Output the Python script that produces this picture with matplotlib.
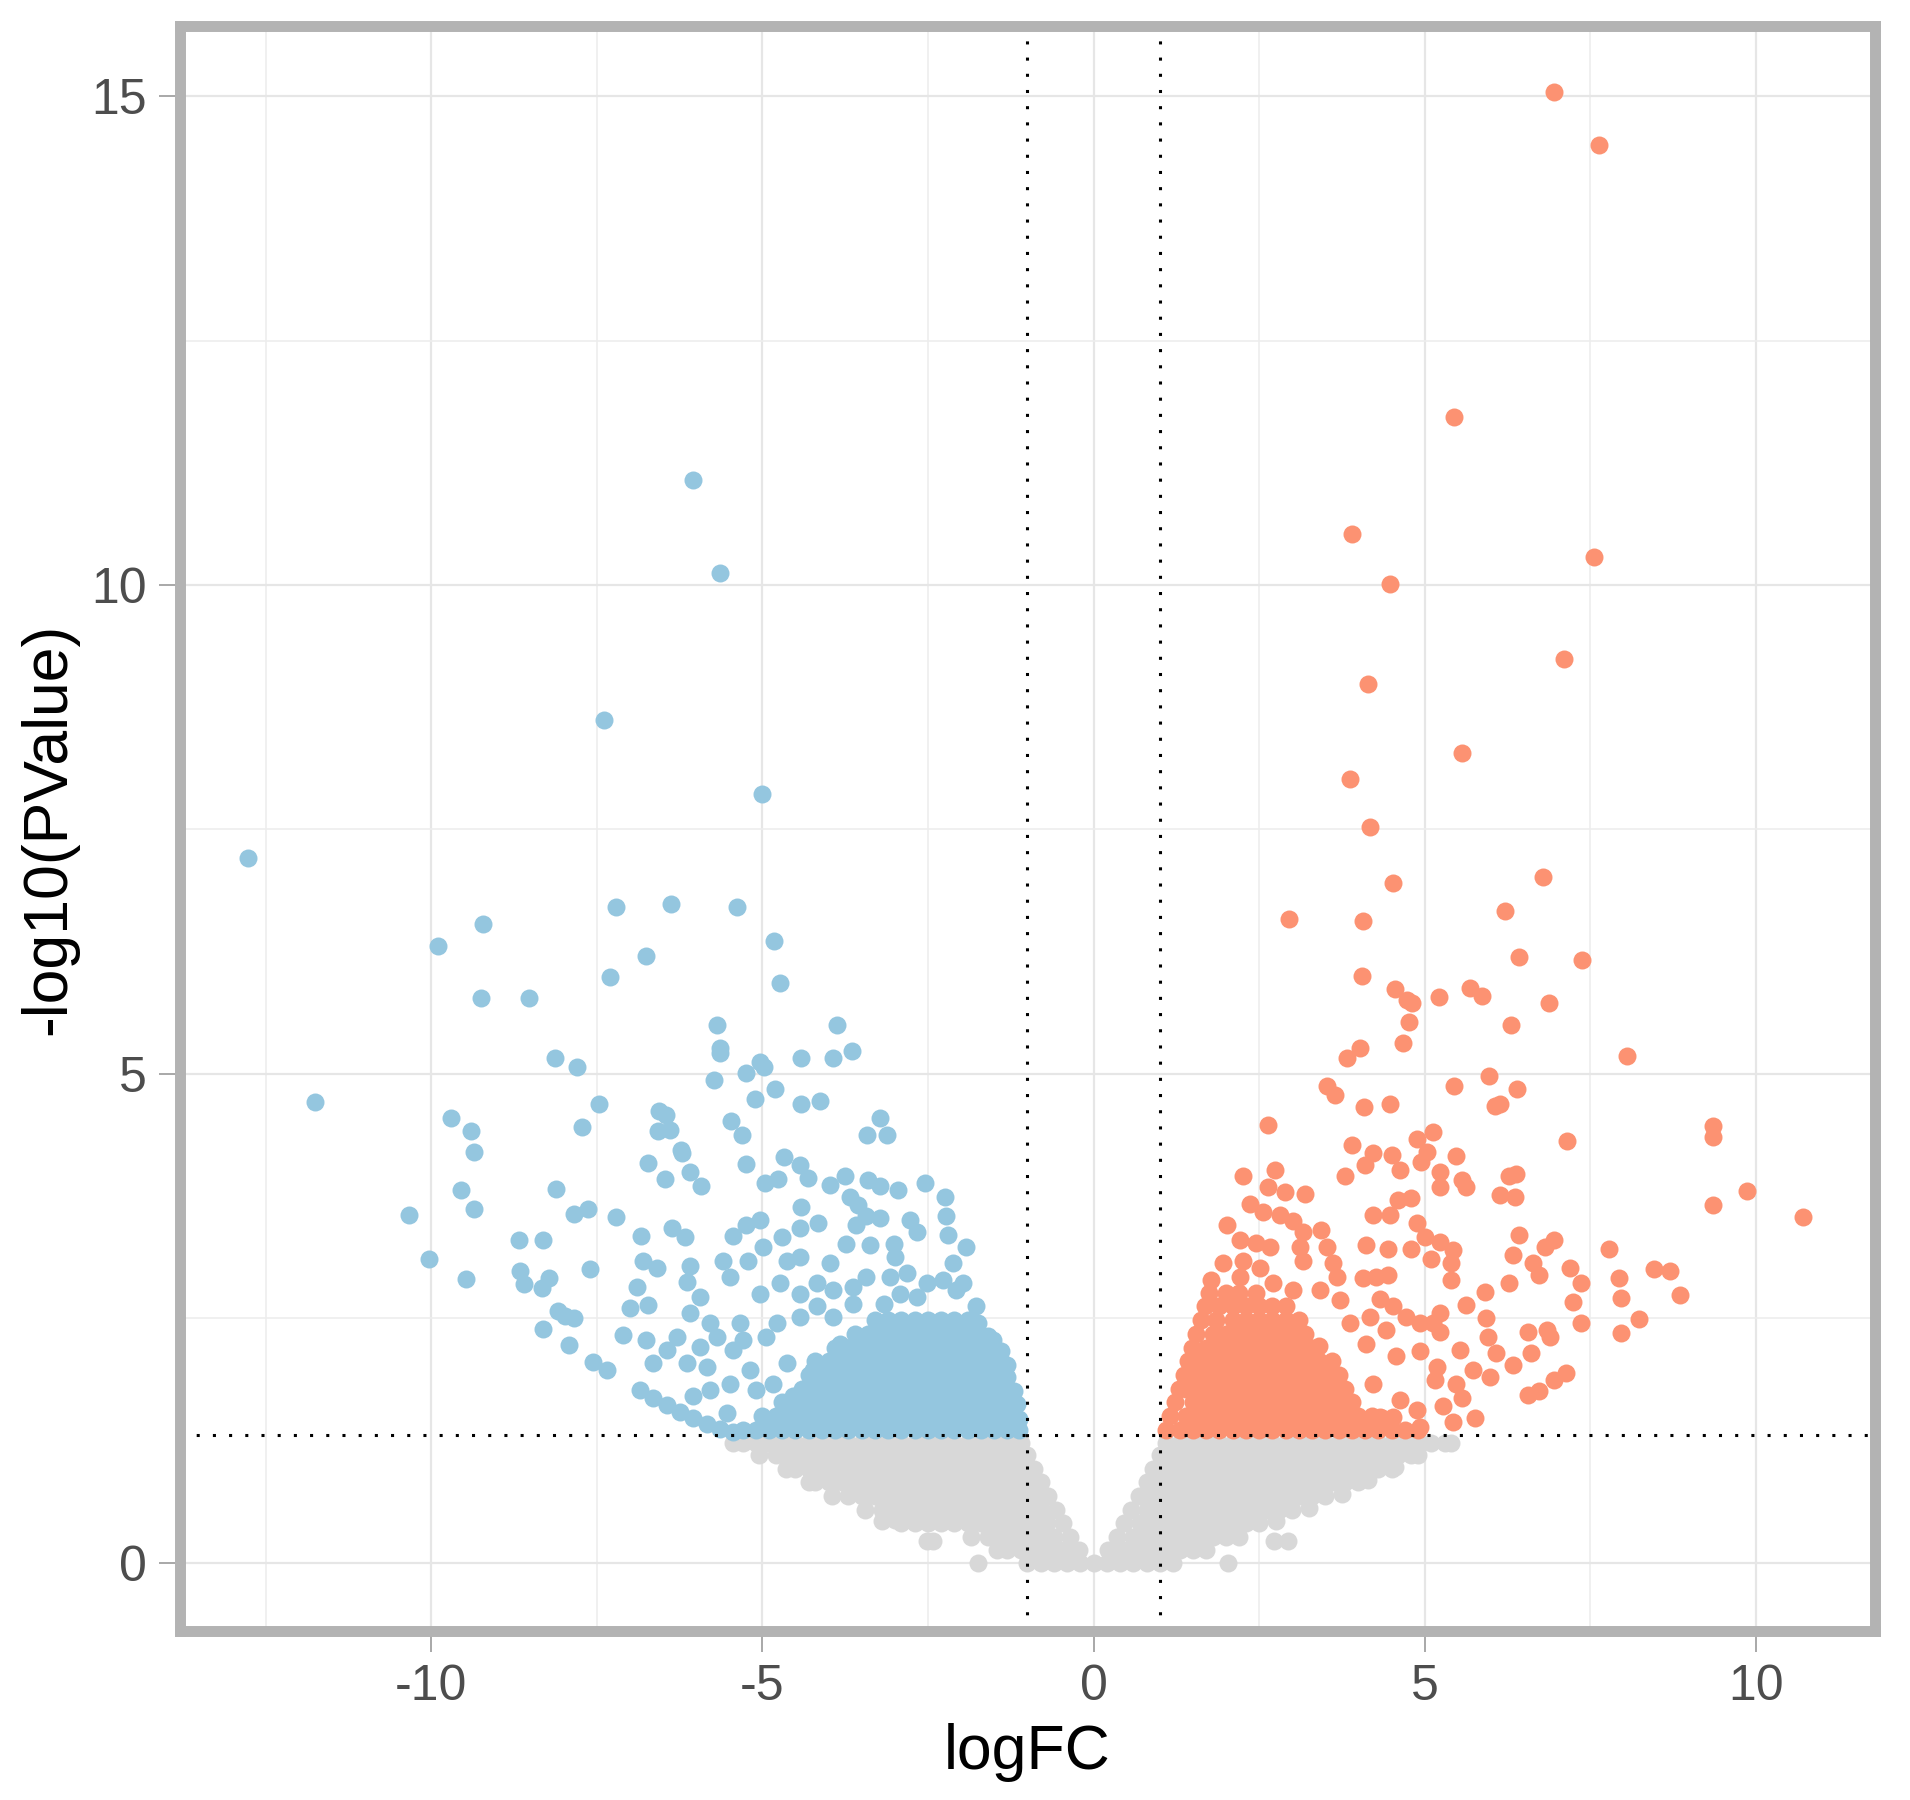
import matplotlib
matplotlib.use('Agg')
import matplotlib.pyplot as plt
from matplotlib.ticker import MultipleLocator

plt.rcParams['font.family'] = ['Liberation Sans', 'DejaVu Sans']
plt.rcParams['axes.unicode_minus'] = False

# colours used for the three groups
col_down = '#94C6DF'
col_up = '#FC9272'
col_ns = '#D8D8D8'

fc_cut = 1.0
p_cut = 1.301  # -log10(0.05)

# ---- down-regulated (blue) ----
down_pts = [
    # isolated points
    (-12.76, 7.21), (-11.76, 4.71), (-6.05, 11.07), (-5.64, 10.12), (-7.39, 8.62), (-5.01, 7.86),
    (-9.90, 6.31), (-9.22, 6.53), (-9.25, 5.78), (-8.53, 5.78), (-7.21, 6.71), (-6.38, 6.74),
    (-5.38, 6.71), (-4.83, 6.36), (-4.74, 5.93), (-7.30, 5.99), (-6.75, 6.21), (-5.68, 5.50),
    (-5.64, 5.26), (-5.64, 5.21), (-8.13, 5.16), (-7.80, 5.07), (-5.03, 5.12), (-4.98, 5.07),
    (-4.41, 5.16), (-3.87, 5.50), (-3.65, 5.23), (-3.94, 5.16), (-5.73, 4.94), (-5.24, 5.01),
    (-4.81, 4.84), (-5.11, 4.74), (-7.47, 4.69), (-4.41, 4.69), (-4.13, 4.72), (-6.56, 4.62),
    (-6.45, 4.58), (-5.47, 4.52), (-3.23, 4.55), (-9.70, 4.55), (-9.40, 4.41), (-9.36, 4.20),
    (-7.72, 4.46), (-6.58, 4.41), (-6.40, 4.43), (-5.31, 4.37), (-3.42, 4.37), (-3.12, 4.37),
    (-6.23, 4.22),
    (-9.55, 3.81), (-9.36, 3.62), (-8.11, 3.82), (-10.34, 3.56), (-10.03, 3.11), (-9.47, 2.90),
    (-7.85, 3.57), (-7.63, 3.62), (-8.68, 3.30), (-8.31, 3.30), (-8.66, 2.98), (-8.60, 2.85),
    (-8.22, 2.91), (-7.61, 3.00), (-8.33, 2.81), (-8.09, 2.57), (-7.98, 2.52), (-7.85, 2.50),
    (-8.31, 2.39), (-7.92, 2.23), (-7.56, 2.05),
    # upper part of the cloud
    (-6.72, 4.09), (-6.22, 4.19), (-6.47, 3.92), (-6.10, 4.00), (-5.93, 3.85), (-5.24, 4.08),
    (-4.68, 4.15), (-4.43, 4.07), (-4.31, 3.93), (-4.96, 3.88), (-4.76, 3.92), (-4.41, 3.64),
    (-3.98, 3.86), (-3.75, 3.95), (-3.40, 3.91), (-3.22, 3.85), (-2.95, 3.81), (-2.55, 3.88),
    (-2.24, 3.74), (-2.22, 3.55), (-2.19, 3.35), (-1.92, 3.23), (-3.68, 3.74), (-3.55, 3.66),
    (-3.43, 3.55), (-3.22, 3.52), (-3.58, 3.45), (-2.77, 3.50), (-2.67, 3.38), (-7.21, 3.54),
    (-6.84, 3.34), (-6.37, 3.42), (-6.17, 3.33), (-5.44, 3.34), (-5.24, 3.45), (-5.04, 3.50),
    (-4.99, 3.23), (-4.71, 3.33), (-4.43, 3.42), (-4.16, 3.47), (-4.63, 3.08), (-4.43, 3.13),
    (-3.98, 3.06), (-3.73, 3.26), (-3.38, 3.25), (-3.02, 3.26), (-3.00, 3.13), (-6.80, 3.08),
    (-6.59, 3.01), (-6.09, 3.03), (-6.14, 2.87), (-5.59, 3.08), (-5.21, 3.09), (-5.49, 2.92),
    (-6.90, 2.82), (-7.00, 2.60), (-6.72, 2.63), (-5.94, 2.72), (-6.09, 2.55), (-5.34, 2.45),
    (-5.04, 2.75), (-4.73, 2.86), (-4.43, 2.75), (-4.18, 2.86), (-3.93, 2.79), (-3.63, 2.82),
    (-3.43, 2.92), (-3.07, 2.92), (-2.82, 2.96), (-2.52, 2.86), (-2.27, 2.89), (-2.07, 2.79),
    (-1.97, 2.86), (-1.77, 2.62), (-2.12, 3.06),
    (-7.10, 2.33), (-7.35, 1.97), (-6.75, 2.28), (-6.44, 2.17), (-6.65, 2.04), (-6.29, 2.31),
    (-5.79, 2.45), (-5.69, 2.31), (-5.94, 2.21), (-6.14, 2.04), (-5.84, 2.00), (-5.44, 2.17),
    (-5.29, 2.28), (-6.04, 1.70), (-5.79, 1.77), (-5.54, 1.53), (-5.49, 1.83), (-5.19, 1.97),
    (-5.09, 1.77), (-4.94, 2.31), (-4.78, 2.45), (-4.63, 2.04), (-4.84, 1.83), (-4.53, 1.70),
    (-4.43, 2.51), (-4.18, 2.62), (-4.23, 1.97), (-3.93, 2.51), (-3.63, 2.65), (-3.83, 2.24),
    (-3.17, 2.65), (-2.92, 2.75), (-2.67, 2.72),
    # lower diagonal streak
    (-6.85, 1.77), (-6.65, 1.68), (-6.44, 1.61), (-6.24, 1.54), (-6.04, 1.48), (-5.84, 1.42),
    (-5.64, 1.37), (-5.44, 1.34),
    # dense core
    (-5.3, 1.36), (-5.1, 1.36), (-4.9, 1.36), (-4.7, 1.36), (-4.5, 1.36), (-4.3, 1.36),
    (-4.1, 1.36), (-3.9, 1.36), (-3.7, 1.36), (-3.5, 1.36), (-3.3, 1.36), (-3.1, 1.36),
    (-2.9, 1.36), (-2.7, 1.36), (-2.5, 1.36), (-2.3, 1.36), (-2.1, 1.36), (-1.9, 1.36),
    (-1.7, 1.36), (-1.5, 1.36), (-1.3, 1.36), (-1.13, 1.36),
    (-5.0, 1.50), (-4.8, 1.50), (-4.6, 1.50), (-4.4, 1.50), (-4.2, 1.50), (-4.0, 1.50),
    (-3.8, 1.50), (-3.6, 1.50), (-3.4, 1.50), (-3.2, 1.50), (-3.0, 1.50), (-2.8, 1.50),
    (-2.6, 1.50), (-2.4, 1.50), (-2.2, 1.50), (-2.0, 1.50), (-1.8, 1.50), (-1.6, 1.50),
    (-1.4, 1.50), (-1.2, 1.50), (-1.13, 1.47),
    (-4.7, 1.64), (-4.5, 1.64), (-4.3, 1.64), (-4.1, 1.64), (-3.9, 1.64), (-3.7, 1.64),
    (-3.5, 1.64), (-3.3, 1.64), (-3.1, 1.64), (-2.9, 1.64), (-2.7, 1.64), (-2.5, 1.64),
    (-2.3, 1.64), (-2.1, 1.64), (-1.9, 1.64), (-1.7, 1.64), (-1.5, 1.64), (-1.3, 1.64),
    (-1.16, 1.62),
    (-4.4, 1.78), (-4.2, 1.78), (-4.0, 1.78), (-3.8, 1.78), (-3.6, 1.78), (-3.4, 1.78),
    (-3.2, 1.78), (-3.0, 1.78), (-2.8, 1.78), (-2.6, 1.78), (-2.4, 1.78), (-2.2, 1.78),
    (-2.0, 1.78), (-1.8, 1.78), (-1.6, 1.78), (-1.4, 1.78), (-1.2, 1.76),
    (-4.3, 1.92), (-4.1, 1.92), (-3.9, 1.92), (-3.7, 1.92), (-3.5, 1.92), (-3.3, 1.92),
    (-3.1, 1.92), (-2.9, 1.92), (-2.7, 1.92), (-2.5, 1.92), (-2.3, 1.92), (-2.1, 1.92),
    (-1.9, 1.92), (-1.7, 1.92), (-1.5, 1.92), (-1.3, 1.90),
    (-4.2, 2.06), (-4.0, 2.06), (-3.8, 2.06), (-3.6, 2.06), (-3.4, 2.06), (-3.2, 2.06),
    (-3.0, 2.06), (-2.8, 2.06), (-2.6, 2.06), (-2.4, 2.06), (-2.2, 2.06), (-2.0, 2.06),
    (-1.8, 2.06), (-1.6, 2.06), (-1.4, 2.06), (-1.3, 2.02),
    (-3.9, 2.20), (-3.7, 2.20), (-3.5, 2.20), (-3.3, 2.20), (-3.1, 2.20), (-2.9, 2.20),
    (-2.7, 2.20), (-2.5, 2.20), (-2.3, 2.20), (-2.1, 2.20), (-1.9, 2.20), (-1.7, 2.20),
    (-1.5, 2.20), (-1.40, 2.16),
    (-3.6, 2.34), (-3.4, 2.34), (-3.2, 2.34), (-3.0, 2.34), (-2.8, 2.34), (-2.6, 2.34),
    (-2.4, 2.34), (-2.2, 2.34), (-2.0, 2.34), (-1.8, 2.34), (-1.6, 2.32), (-1.52, 2.28),
    (-3.3, 2.48), (-3.1, 2.48), (-2.9, 2.48), (-2.7, 2.48), (-2.5, 2.48), (-2.3, 2.48),
    (-2.1, 2.48), (-1.9, 2.48), (-1.75, 2.45),
]

# ---- up-regulated (red) ----
up_pts = [
    # isolated points
    (6.95, 15.04), (7.63, 14.50), (5.44, 11.72), (3.91, 10.52), (4.48, 10.01), (7.56, 10.29),
    (7.10, 9.24), (4.15, 8.99), (5.57, 8.28), (3.87, 8.02), (4.18, 7.52), (6.78, 7.01),
    (4.52, 6.95), (2.95, 6.58), (4.07, 6.56), (6.21, 6.67), (6.43, 6.20), (7.37, 6.16),
    (4.06, 6.00), (4.55, 5.87), (4.74, 5.75), (4.81, 5.72), (5.22, 5.79), (5.68, 5.88),
    (5.86, 5.80), (6.88, 5.72), (4.77, 5.53), (6.30, 5.50), (4.68, 5.32), (4.02, 5.26),
    (3.83, 5.16), (8.06, 5.18), (5.97, 4.98), (5.44, 4.88), (6.40, 4.84), (3.52, 4.88),
    (3.65, 4.78), (6.14, 4.69), (6.06, 4.67), (4.09, 4.66), (4.48, 4.69), (2.64, 4.48),
    (9.35, 4.47), (9.36, 4.35), (7.15, 4.31), (5.12, 4.40), (4.88, 4.33), (3.91, 4.27),
    (5.47, 4.16),
    (9.86, 3.80), (10.71, 3.54), (9.35, 3.66), (7.78, 3.21), (8.46, 3.00), (8.70, 2.98),
    (7.94, 2.91), (8.85, 2.74), (7.96, 2.71), (8.24, 2.49), (7.96, 2.35),
    # upper part of the cloud
    (2.26, 3.95), (2.74, 4.02), (2.64, 3.84), (2.89, 3.79), (3.19, 3.77), (2.36, 3.67),
    (2.56, 3.59), (2.81, 3.56), (3.01, 3.49), (3.16, 3.38), (3.44, 3.40), (2.01, 3.45),
    (2.21, 3.30), (2.46, 3.27), (2.66, 3.23), (3.11, 3.23), (3.16, 3.09), (3.52, 3.23),
    (3.62, 3.06), (1.96, 3.06), (2.26, 3.09), (2.51, 3.01), (1.78, 2.89), (2.21, 2.92),
    (2.71, 2.86), (3.01, 2.79), (3.42, 2.79), (3.67, 2.92), (3.79, 3.95), (4.10, 4.07),
    (4.22, 4.19), (4.50, 4.17), (4.62, 4.02), (4.95, 4.10), (5.03, 4.20), (5.23, 4.00),
    (5.23, 3.84), (5.56, 3.91), (5.63, 3.84), (6.13, 3.76), (6.28, 3.95), (6.38, 3.98),
    (6.36, 3.74), (4.22, 3.56), (4.47, 3.56), (4.60, 3.71), (4.80, 3.73), (4.12, 3.25),
    (4.45, 3.21), (4.80, 3.21), (4.88, 3.47), (5.00, 3.33), (5.23, 3.28), (5.43, 3.20),
    (5.10, 3.11), (5.40, 3.06), (5.40, 2.89), (6.43, 3.35), (6.96, 3.30), (6.81, 3.23),
    (6.33, 3.15), (6.63, 3.06), (6.73, 2.94), (7.19, 3.01), (7.36, 2.86), (7.24, 2.67),
    (7.36, 2.45), (6.28, 2.86), (5.91, 2.77), (5.63, 2.63), (5.93, 2.50), (5.96, 2.31),
    (6.56, 2.36), (6.84, 2.38), (6.89, 2.31), (6.61, 2.14), (6.33, 2.02), (6.08, 2.14),
    (5.98, 1.90), (5.73, 1.97), (5.53, 2.17), (5.23, 2.55), (5.23, 2.36), (5.18, 2.00),
    (5.15, 1.87), (5.48, 1.83), (5.56, 1.68), (5.28, 1.60), (5.43, 1.44), (5.76, 1.48),
    (6.56, 1.71), (6.73, 1.76), (6.96, 1.87), (7.14, 1.94), (4.93, 2.16), (4.93, 2.45),
    (5.13, 2.45), (4.72, 2.51), (4.52, 2.62), (4.32, 2.70), (4.07, 2.91), (4.27, 2.92),
    (4.45, 2.94), (4.57, 2.11), (4.62, 1.66), (4.88, 1.56), (4.93, 1.39), (4.52, 1.49),
    (4.12, 2.24), (4.17, 2.51), (3.87, 2.45), (3.72, 2.69), (4.42, 2.38), (4.22, 1.83),
    (4.32, 1.49), (4.02, 1.42),
    # dense core
    (1.10, 1.36), (1.3, 1.36), (1.5, 1.36), (1.7, 1.36), (1.9, 1.36), (2.1, 1.36),
    (2.3, 1.36), (2.5, 1.36), (2.7, 1.36), (2.9, 1.36), (3.1, 1.36), (3.3, 1.36),
    (3.5, 1.36), (3.7, 1.36), (3.9, 1.36), (4.1, 1.36), (4.3, 1.36), (4.5, 1.36),
    (4.7, 1.36), (4.9, 1.36),
    (1.16, 1.50), (1.4, 1.50), (1.6, 1.50), (1.8, 1.50), (2.0, 1.50), (2.2, 1.50),
    (2.4, 1.50), (2.6, 1.50), (2.8, 1.50), (3.0, 1.50), (3.2, 1.50), (3.4, 1.50),
    (3.6, 1.50), (3.8, 1.50), (4.0, 1.50), (4.2, 1.50), (4.35, 1.48),
    (1.23, 1.64), (1.5, 1.64), (1.7, 1.64), (1.9, 1.64), (2.1, 1.64), (2.3, 1.64),
    (2.5, 1.64), (2.7, 1.64), (2.9, 1.64), (3.1, 1.64), (3.3, 1.64), (3.5, 1.64),
    (3.7, 1.64), (3.9, 1.64),
    (1.29, 1.78), (1.4, 1.78), (1.6, 1.78), (1.8, 1.78), (2.0, 1.78), (2.2, 1.78),
    (2.4, 1.78), (2.6, 1.78), (2.8, 1.78), (3.0, 1.78), (3.2, 1.78), (3.4, 1.78),
    (3.6, 1.78), (3.8, 1.78),
    (1.36, 1.92), (1.5, 1.92), (1.7, 1.92), (1.9, 1.92), (2.1, 1.92), (2.3, 1.92),
    (2.5, 1.92), (2.7, 1.92), (2.9, 1.92), (3.1, 1.92), (3.3, 1.92), (3.5, 1.92),
    (3.7, 1.92),
    (1.42, 2.06), (1.6, 2.06), (1.8, 2.06), (2.0, 2.06), (2.2, 2.06), (2.4, 2.06),
    (2.6, 2.06), (2.8, 2.06), (3.0, 2.06), (3.2, 2.06), (3.4, 2.06), (3.6, 2.06),
    (1.48, 2.20), (1.7, 2.20), (1.9, 2.20), (2.1, 2.20), (2.3, 2.20), (2.5, 2.20),
    (2.7, 2.20), (2.9, 2.20), (3.1, 2.20), (3.3, 2.20), (3.4, 2.22),
    (1.55, 2.34), (1.8, 2.34), (2.0, 2.34), (2.2, 2.34), (2.4, 2.34), (2.6, 2.34),
    (2.8, 2.34), (3.0, 2.34), (3.2, 2.34),
    (1.62, 2.48), (1.85, 2.48), (2.1, 2.48), (2.3, 2.48), (2.5, 2.48), (2.7, 2.48),
    (2.9, 2.48), (3.1, 2.48),
    (1.68, 2.62), (1.9, 2.62), (2.1, 2.62), (2.3, 2.62), (2.5, 2.62), (2.7, 2.62),
    (2.9, 2.62),
    (1.75, 2.76), (2.0, 2.76), (2.2, 2.76), (2.45, 2.76),
]

# ---- not significant (grey) ----
ns_pts = [
    # y ~ 1.22
    (-5.45, 1.22), (-5.3, 1.22), (-5.1, 1.22), (-4.9, 1.22), (-4.7, 1.22), (-4.5, 1.22),
    (-4.3, 1.22), (-4.1, 1.22), (-3.9, 1.22), (-3.7, 1.22), (-3.5, 1.22), (-3.3, 1.22),
    (-3.1, 1.22), (-2.9, 1.22), (-2.7, 1.22), (-2.5, 1.22), (-2.3, 1.22), (-2.1, 1.22),
    (-1.9, 1.22), (-1.7, 1.22), (-1.5, 1.22), (-1.3, 1.22), (-1.1, 1.22),
    (1.1, 1.22), (1.3, 1.22), (1.5, 1.22), (1.7, 1.22), (1.9, 1.22), (2.1, 1.22),
    (2.3, 1.22), (2.5, 1.22), (2.7, 1.22), (2.9, 1.22), (3.1, 1.22), (3.3, 1.22),
    (3.5, 1.22), (3.7, 1.22), (3.9, 1.22), (4.1, 1.22), (4.3, 1.22), (4.5, 1.22),
    (4.7, 1.22), (4.9, 1.22), (5.1, 1.22), (5.3, 1.22), (5.4, 1.22),
    # y ~ 1.10
    (-5.05, 1.10), (-4.8, 1.10), (-4.6, 1.10), (-4.4, 1.10), (-4.2, 1.10), (-4.0, 1.10),
    (-3.8, 1.10), (-3.6, 1.10), (-3.4, 1.10), (-3.2, 1.10), (-3.0, 1.10), (-2.8, 1.10),
    (-2.6, 1.10), (-2.4, 1.10), (-2.2, 1.10), (-2.0, 1.10), (-1.8, 1.10), (-1.6, 1.10),
    (-1.4, 1.10), (-1.2, 1.10), (-1.0, 1.10),
    (1.0, 1.10), (1.2, 1.10), (1.4, 1.10), (1.6, 1.10), (1.8, 1.10), (2.0, 1.10),
    (2.2, 1.10), (2.4, 1.10), (2.6, 1.10), (2.8, 1.10), (3.0, 1.10), (3.2, 1.10),
    (3.4, 1.10), (3.6, 1.10), (3.8, 1.10), (4.0, 1.10), (4.2, 1.10), (4.4, 1.10),
    (4.6, 1.10), (4.8, 1.10), (4.9, 1.10),
    # y ~ 0.96
    (-4.65, 0.96), (-4.5, 0.96), (-4.3, 0.96), (-4.1, 0.96), (-3.9, 0.96), (-3.7, 0.96),
    (-3.5, 0.96), (-3.3, 0.96), (-3.1, 0.96), (-2.9, 0.96), (-2.7, 0.96), (-2.5, 0.96),
    (-2.3, 0.96), (-2.1, 0.96), (-1.9, 0.96), (-1.7, 0.96), (-1.5, 0.96), (-1.3, 0.96),
    (-1.1, 0.96), (-0.9, 0.96),
    (0.9, 0.96), (1.1, 0.96), (1.3, 0.96), (1.5, 0.96), (1.7, 0.96), (1.9, 0.96),
    (2.1, 0.96), (2.3, 0.96), (2.5, 0.96), (2.7, 0.96), (2.9, 0.96), (3.1, 0.96),
    (3.3, 0.96), (3.5, 0.96), (3.7, 0.96), (3.9, 0.96), (4.1, 0.96), (4.3, 0.96),
    (4.5, 0.96), (4.55, 0.98),
    # y ~ 0.82
    (-4.3, 0.82), (-4.2, 0.82), (-4.0, 0.82), (-3.8, 0.82), (-3.6, 0.82), (-3.4, 0.82),
    (-3.2, 0.82), (-3.0, 0.82), (-2.8, 0.82), (-2.6, 0.82), (-2.4, 0.82), (-2.2, 0.82),
    (-2.0, 0.82), (-1.8, 0.82), (-1.6, 0.82), (-1.4, 0.82), (-1.2, 0.82), (-1.0, 0.82),
    (-0.8, 0.82),
    (0.8, 0.82), (1.0, 0.82), (1.2, 0.82), (1.4, 0.82), (1.6, 0.82), (1.8, 0.82),
    (2.0, 0.82), (2.2, 0.82), (2.4, 0.82), (2.6, 0.82), (2.8, 0.82), (3.0, 0.82),
    (3.2, 0.82), (3.4, 0.82), (3.6, 0.82), (3.8, 0.82), (4.0, 0.82), (4.15, 0.84),
    # y ~ 0.68
    (-3.95, 0.68), (-3.7, 0.68), (-3.5, 0.68), (-3.3, 0.68), (-3.1, 0.68), (-2.9, 0.68),
    (-2.7, 0.68), (-2.5, 0.68), (-2.3, 0.68), (-2.1, 0.68), (-1.9, 0.68), (-1.7, 0.68),
    (-1.5, 0.68), (-1.3, 0.68), (-1.1, 0.68), (-0.9, 0.68), (-0.68, 0.68),
    (0.68, 0.68), (0.9, 0.68), (1.1, 0.68), (1.3, 0.68), (1.5, 0.68), (1.7, 0.68),
    (1.9, 0.68), (2.1, 0.68), (2.3, 0.68), (2.5, 0.68), (2.7, 0.68), (2.9, 0.68),
    (3.1, 0.68), (3.3, 0.68), (3.5, 0.68), (3.75, 0.70),
    # y ~ 0.54
    (-3.45, 0.54), (-3.2, 0.54), (-3.0, 0.54), (-2.8, 0.54), (-2.6, 0.54), (-2.4, 0.54),
    (-2.2, 0.54), (-2.0, 0.54), (-1.8, 0.54), (-1.6, 0.54), (-1.4, 0.54), (-1.2, 0.54),
    (-1.0, 0.54), (-0.8, 0.54), (-0.57, 0.54),
    (0.57, 0.54), (0.8, 0.54), (1.0, 0.54), (1.2, 0.54), (1.4, 0.54), (1.6, 0.54),
    (1.8, 0.54), (2.0, 0.54), (2.2, 0.54), (2.4, 0.54), (2.6, 0.54), (2.8, 0.54),
    (3.0, 0.54), (3.25, 0.56),
    # y ~ 0.40
    (-3.2, 0.42), (-3.0, 0.44), (-2.9, 0.40), (-2.7, 0.40), (-2.5, 0.40), (-2.3, 0.40),
    (-2.1, 0.40), (-1.9, 0.40), (-1.7, 0.40), (-1.5, 0.40), (-1.3, 0.40), (-1.1, 0.40),
    (-0.9, 0.40), (-0.7, 0.40), (-0.46, 0.40),
    (0.46, 0.40), (0.7, 0.40), (0.9, 0.40), (1.1, 0.40), (1.3, 0.40), (1.5, 0.40),
    (1.7, 0.40), (1.9, 0.40), (2.1, 0.40), (2.3, 0.40), (2.5, 0.40), (2.75, 0.42),
    # y ~ 0.26
    (-1.85, 0.26), (-1.6, 0.26), (-1.4, 0.26), (-1.2, 0.26), (-1.0, 0.26), (-0.8, 0.26),
    (-0.6, 0.26), (-0.35, 0.26),
    (0.35, 0.26), (0.6, 0.26), (0.8, 0.26), (1.0, 0.26), (1.2, 0.26), (1.4, 0.26),
    (1.6, 0.26), (1.8, 0.26), (2.0, 0.26), (2.2, 0.26),
    # y ~ 0.13
    (-1.45, 0.13), (-1.3, 0.13), (-1.1, 0.13), (-0.9, 0.13), (-0.7, 0.13), (-0.5, 0.13),
    (-0.3, 0.13), (-0.22, 0.13),
    (0.22, 0.13), (0.3, 0.13), (0.5, 0.13), (0.7, 0.13), (0.9, 0.13), (1.1, 0.13),
    (1.3, 0.13), (1.5, 0.13), (1.7, 0.13),
    # y ~ 0
    (-1.0, 0.0), (-0.8, 0.0), (-0.6, 0.0), (-0.4, 0.0), (-0.2, 0.0), (0.0, 0.0),
    (0.2, 0.0), (0.4, 0.0), (0.6, 0.0), (0.8, 0.0), (1.0, 0.0), (1.2, 0.0),
    # stray grey points
    (-1.74, 0.00), (-2.52, 0.22), (-2.42, 0.22), (2.03, 0.00), (2.73, 0.22), (2.94, 0.22),
]

x_ticks = [-10, -5, 0, 5, 10]
y_ticks = [0, 5, 10, 15]

fig = plt.figure(figsize=(19.1, 18), dpi=100)
ax = fig.add_axes([0.094, 0.0939, 0.8877, 0.8917])

ns_x, ns_y = zip(*ns_pts)
dn_x, dn_y = zip(*down_pts)
up_x, up_y = zip(*up_pts)
msize = 168
ax.scatter(ns_x, ns_y, s=msize, c=col_ns, linewidths=0, zorder=2)
ax.scatter(dn_x, dn_y, s=msize, c=col_down, linewidths=0, zorder=3)
ax.scatter(up_x, up_y, s=msize, c=col_up, linewidths=0, zorder=3)

dot_style = dict(color='black', lw=2.2, dashes=(1, 4.3), zorder=4)
ax.axvline(-fc_cut, **dot_style)
ax.axvline(fc_cut, **dot_style)
ax.axhline(p_cut, **dot_style)

ax.set_xlim(-13.8, 11.8)
ax.set_ylim(-0.70, 15.72)
ax.set_xticks(x_ticks)
ax.set_yticks(y_ticks)
ax.xaxis.set_minor_locator(MultipleLocator(2.5))
ax.yaxis.set_minor_locator(MultipleLocator(2.5))
ax.grid(which='major', color='#E6E6E6', lw=1.6, zorder=0)
ax.grid(which='minor', color='#EDEDED', lw=1.2, zorder=0)
ax.set_axisbelow(True)

for sp in ax.spines.values():
    sp.set_color('#B3B3B3')
    sp.set_linewidth(7.9)
    sp.set_zorder(5)

ax.tick_params(which='major', length=14.8, width=1.4, color='#A8A8A8',
               labelsize=36, labelcolor='#4D4D4D', pad=9)
ax.tick_params(which='minor', length=0)

ax.set_xlabel('logFC', fontsize=45, color='black')
ax.set_ylabel('-log10(PValue)', fontsize=45, color='black')
ax.xaxis.set_label_coords(0.5, -0.0754)
ax.xaxis.label.set_verticalalignment('center')
ax.yaxis.set_label_coords(-0.077, 0.5)
ax.yaxis.label.set_verticalalignment('center')

fig.savefig('out.png', dpi=100, facecolor='white')
